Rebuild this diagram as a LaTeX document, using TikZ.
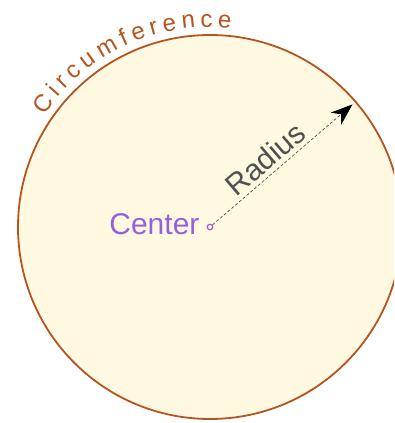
\documentclass[tikz,border=0pt]{standalone}
\usepackage{fontspec}
\setmainfont{Liberation Sans}
\usepackage{tikz}
\usetikzlibrary{positioning,arrows.meta,decorations.text}

\definecolor{rimbrown}{RGB}{181,84,30}
\definecolor{discfill}{RGB}{255,249,225}
\definecolor{ctrpurple}{RGB}{150,95,220}
\definecolor{radgray}{RGB}{80,80,80}

\begin{document}
\begin{tikzpicture}[x=1pt,y=1pt]
        \tikzset{disc/.style={draw=rimbrown, line width=1.8pt, fill=discfill},
                 ctrdot/.style={circle, draw=ctrpurple, line width=1.2pt, fill=discfill, inner sep=0pt, minimum size=5.5pt},
                 radline/.style={densely dashed, draw=radgray, line width=0.7pt, -{Stealth[length=22pt,width=16pt,inset=7pt,black]}}}

	\useasboundingbox (0,0) rectangle (394,423);
	\clip (0,0) rectangle (394,423);

	%---NODES---
        \coordinate (o) at (210,196);
        \draw[disc] (o) circle[radius=192pt];
        \node[ctrdot] (ctr) at (o) {};
        \coordinate (tip) at ([shift={(40.7:188pt)}]o);

        \node[left=6pt of ctr, anchor=east, yshift=3pt, text=ctrpurple, inner sep=1pt] (ctrlbl) {\fontsize{30}{32}\selectfont Center};

	%---EDGES---
        \draw[radline] (ctr) -- (tip) node[pos=0.45, sloped, above=1pt, text=radgray] (radlbl) {\fontsize{30}{32}\selectfont Radius};

	%---LABELS---
        \path[decorate, decoration={text along path, text align=fit to path, text color=rimbrown,
              text={|\fontsize{24}{26}\selectfont|Circumference}}]
              (o) ++(146:200pt) arc[start angle=146, end angle=84, radius=200pt];

    \end{tikzpicture}
\end{document}
